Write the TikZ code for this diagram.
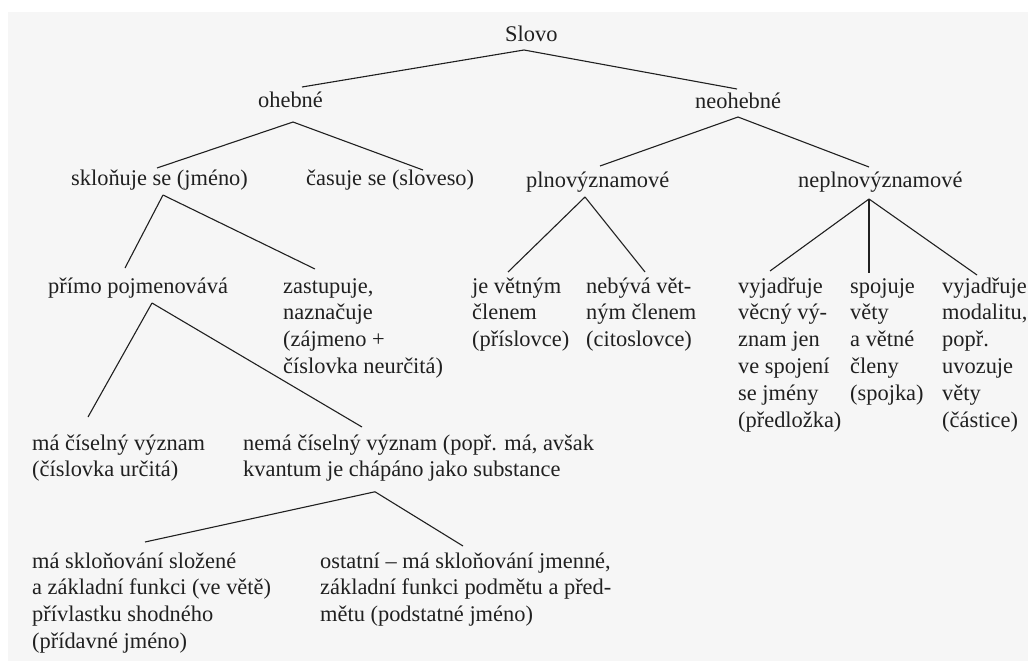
\documentclass[tikz,border=0pt]{standalone}
\usepackage{fontspec}
\setmainfont{Liberation Serif}
\usepackage{tikz}
\usetikzlibrary{calc}
\usepackage{xcolor}
\definecolor{ink}{RGB}{32,32,32}
\definecolor{paper}{RGB}{246,246,246}
\newcommand{\wordfont}{\fontsize{22.4}{26.8}\selectfont}
\tikzset{
  word/.style={anchor=base west, inner sep=0pt, align=left, text=ink, font=\wordfont},
  branch/.style={draw=ink, line width=1.1pt}
}

\begin{document}
\begin{tikzpicture}[x=1pt, y=-1pt]
  \fill[white] (0,0) rectangle (1028,661);
  \fill[paper] (8,12) rectangle (1028,661);
  \useasboundingbox (0,0) rectangle (1028,661);
  % Root and first split
  \node[word] (slovo) at (505,42) {Slovo};
  \node[word] (ohebne) at (258,107) {ohebné};
  \node[word] (neohebne) at (695,108) {neohebné};
  % Second level
  \node[word] (sklon) at (71,185) {skloňuje se (jméno)};
  \node[word] (casuje) at (306,185) {časuje se (sloveso)};
  \node[word] (plno) at (526,187) {plnovýznamové};
  \node[word] (neplno) at (798,187) {neplnovýznamové};
  % Third level (multi-line nodes sit on their last line)
  \node[word] (primo) at (48,293) {přímo pojmenovává};
  \node[word] (zast) at (283,373.4) {zastupuje,\\naznačuje\\(zájmeno +\\číslovka neurčitá)};
  \node[word] (clen) at (472,346.6) {je větným\\členem\\(příslovce)};
  \node[word] (neclen) at (586,346.6) {nebývá vět-\\ným členem\\(citoslovce)};
  \node[word] (predl) at (738,427) {vyjadřuje\\věcný vý-\\znam jen\\ve spojení\\se jmény\\(předložka)};
  \node[word] (spojka) at (850,400.2) {spojuje\\věty\\a větné\\členy\\(spojka)};
  \node[word] (castice) at (942,427) {vyjadřuje\\modalitu,\\popř.\\uvozuje\\věty\\(částice)};
  % Numerals vs. the rest
  \node[word] (cisl) at (32,476.8) {má číselný význam\\(číslovka určitá)};
  \node[word] (nema) at (243,476.8) {nemá číselný význam (popř. má, avšak\\kvantum je chápáno jako substance};
  % Adjective vs. noun
  \node[word] (prid) at (32,648.4) {má skloňování složené\\a základní funkci (ve větě)\\přívlastku shodného\\(přídavné jméno)};
  \node[word] (podst) at (320,621.6) {ostatní – má skloňování jmenné,\\základní funkci podmětu a před-\\mětu (podstatné jméno)};
  % Branches: parent anchor/dx/dy/child/dx/dy
  \foreach \a/\ax/\ay/\b/\bx/\by in {
      slovo.base west/19/8/ohebne/44/-20,
      slovo.base west/19/8/neohebne/42/-19,
      ohebne.base west/35/15/sklon/86/-17,
      ohebne.base west/35/15/casuje/117/-15,
      neohebne.base west/43/9/plno/74/-21,
      neohebne.base west/43/9/neplno/71/-20,
      sklon.base west/92/10/primo/77/-25,
      sklon.base west/92/10/zast/32/-104.4,
      plno.base west/59/10/clen/36/-74.6,
      plno.base west/59/10/neclen/59/-74.6,
      neplno.base west/71/12/predl/32/-156,
      neplno.base west/71/12/spojka/19/-127.2,
      neplno.base west/71/12/castice/35/-152,
      primo.base west/104/10/cisl/56/-59.8,
      primo.base west/104/10/nema/119/-49.8,
      nema.south west/132/10/prid/113/-106.4,
      nema.south west/132/10/podst/143/-75.6} {
    \draw[branch] ([shift={(\ax,\ay)}]\a) -- ([shift={(\bx,\by)}]\b.base west);
  }
\end{tikzpicture}
\end{document}
